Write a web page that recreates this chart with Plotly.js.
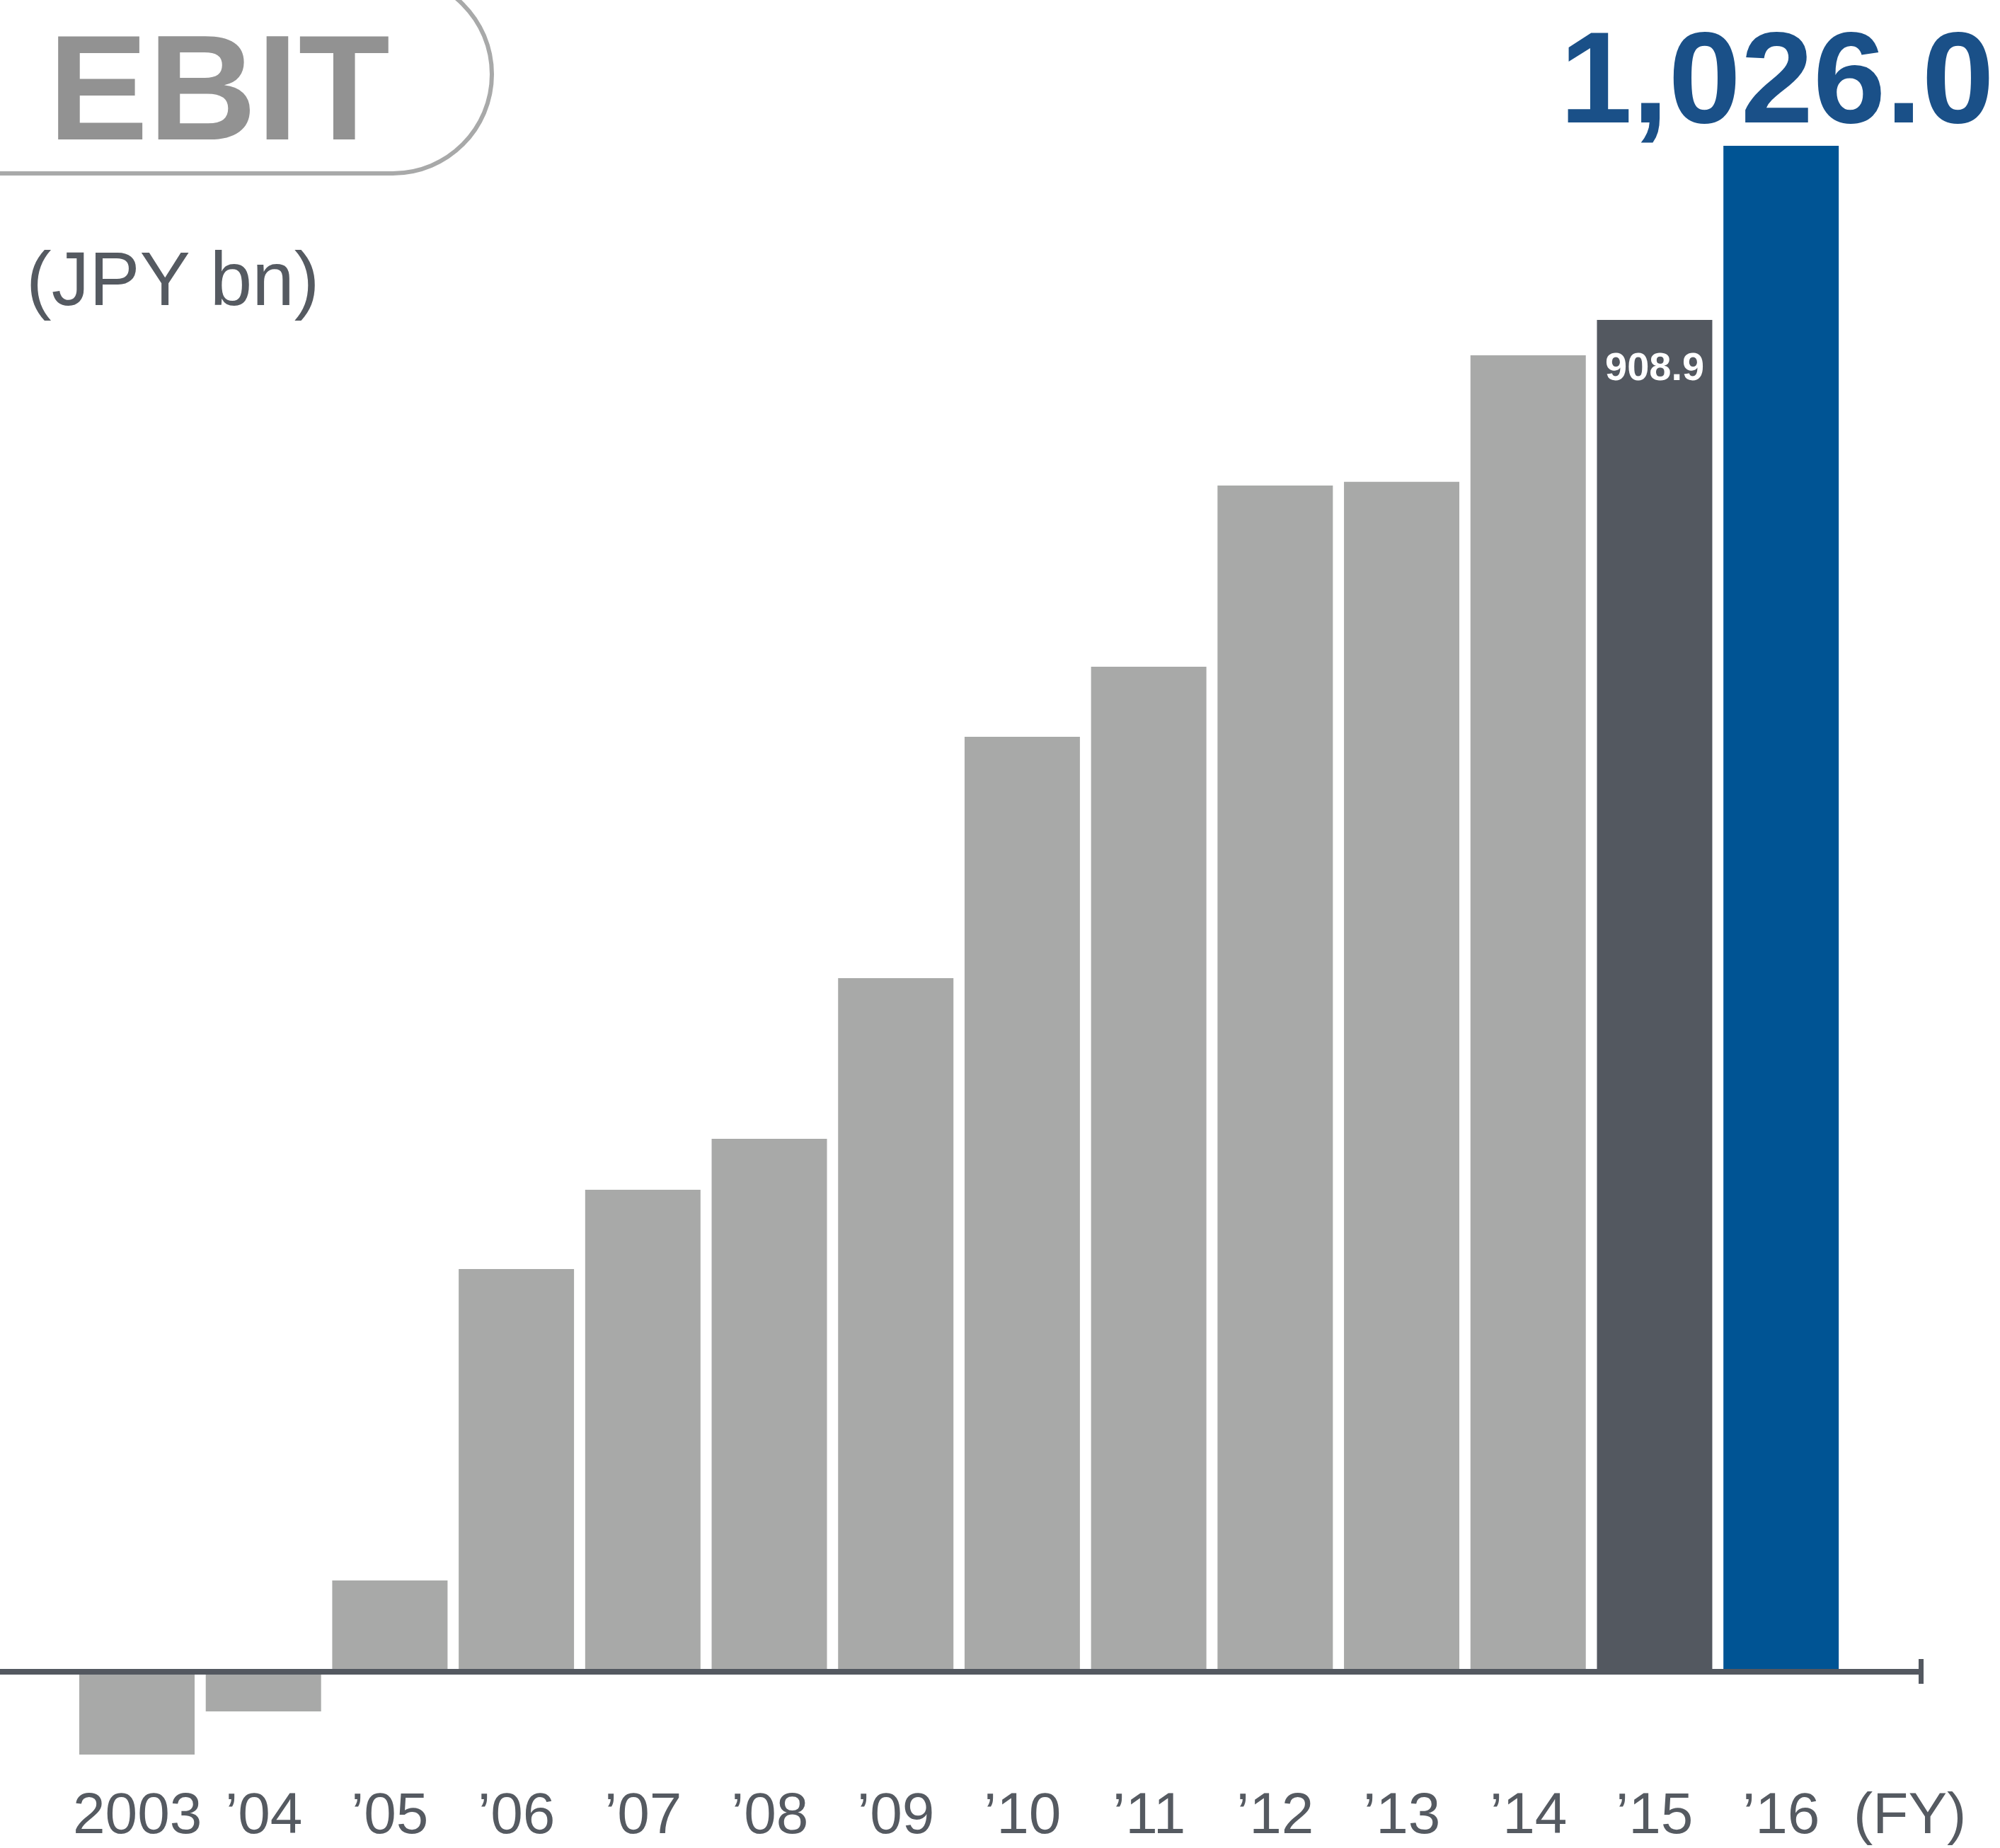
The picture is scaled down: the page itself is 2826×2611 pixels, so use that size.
<!DOCTYPE html>
<html>
<head>
<meta charset="utf-8">
<script src="https://cdn.plot.ly/plotly-3.0.1.min.js"></script>
<style>html,body{margin:0;padding:0;background:#ffffff;}</style>
</head>
<body>
<div id="chart" style="width:2826px;height:2611px;"></div>
<script>
// ---- data ----
const years = ["2003", "\u201904", "\u201905", "\u201906", "\u201907", "\u201908", "\u201909",
               "\u201910", "\u201911", "\u201912", "\u201913", "\u201914", "\u201915", "\u201916"];
const ebit = [-55.7, -26.6, 61.4, 270.8, 324.1, 358.3, 466.4, 628.6, 675.7, 797.6, 800.0, 885.1, 908.9, 1026.0];
const chartTitle = "EBIT";
const unitLabel = "(JPY bn)";
const axisUnit = "(FY)";
const highlightLabel = "1,026.0";
const prevLabel = "908.9";

// ---- layout helpers ----
const W = 2826, H = 2611;
const px = x => x / W;            // pixel -> paper x
const py = y => 1 - y / H;        // pixel -> paper y
const FONT = "Liberation Sans, Arial, Helvetica, sans-serif";
const GRAY = "#a8a9a8", DARK = "#535860", BLUE = "#005494", TEXT = "#555a61";

const colors = ebit.map((v, i) => i === ebit.length - 1 ? BLUE : (i === ebit.length - 2 ? DARK : GRAY));

const trace = {
  type: "bar",
  x: years,
  y: ebit,
  marker: {color: colors, line: {width: 0}},
  hoverinfo: "skip",
  cliponaxis: false
};

// pill outline around title (rounded right end)
const r = 140, cx = 555, cy = 105, k = 0.5523 * r;
const P = (x, y) => px(x) + "," + py(y);
const pillPath = "M" + P(-30, cy + r) + " L" + P(cx, cy + r) +
  " C" + P(cx + k, cy + r) + " " + P(cx + r, cy + k) + " " + P(cx + r, cy) +
  " C" + P(cx + r, cy - k) + " " + P(cx + k, cy - r) + " " + P(cx, cy - r) +
  " L" + P(-30, cy - r);

const shapes = [
  {type: "path", xref: "paper", yref: "paper", path: pillPath,
   line: {color: "#a8a9a9", width: 6}, layer: "above"},
  {type: "line", xref: "paper", yref: "paper", x0: px(-5), x1: px(2715), y0: py(2362), y1: py(2362),
   line: {color: DARK, width: 8}, layer: "above"},
  {type: "line", xref: "paper", yref: "paper", x0: px(2714.5), x1: px(2714.5), y0: py(2344), y1: py(2379),
   line: {color: DARK, width: 7}, layer: "above"}
];

const annotations = [];
years.forEach((yl, i) => {
  annotations.push({xref: "x", yref: "paper", x: i, y: py(2561), text: yl, showarrow: false,
    xanchor: "center", yanchor: "middle", font: {family: FONT, size: 82, color: TEXT}});
});
annotations.push({xref: "paper", yref: "paper", x: px(2617), y: py(2561), text: axisUnit, showarrow: false,
  xanchor: "left", yanchor: "middle", font: {family: FONT, size: 82, color: TEXT}});
annotations.push({xref: "paper", yref: "paper", x: px(66), y: py(124), text: "<b>" + chartTitle + "</b>", showarrow: false,
  xanchor: "left", yanchor: "middle", font: {family: FONT, size: 212, color: "#929292"}});
annotations.push({xref: "paper", yref: "paper", x: px(35), y: py(394), text: unitLabel, showarrow: false,
  xanchor: "left", yanchor: "middle", font: {family: FONT, size: 107, color: TEXT}});
annotations.push({xref: "paper", yref: "paper", x: px(2820), y: py(109), text: "<b>" + highlightLabel + "</b>", showarrow: false,
  xanchor: "right", yanchor: "middle", font: {family: FONT, size: 184, color: "#1a5088"}});
annotations.push({xref: "x", yref: "y", x: 12, y: ebit[12], yshift: -65, text: "<b>" + prevLabel + "</b>", showarrow: false,
  xanchor: "center", yanchor: "middle", font: {family: FONT, size: 56, color: "#ffffff"}});

const layout = {
  width: W, height: H, autosize: false,
  margin: {l: 0, r: 0, t: 0, b: 0, pad: 0},
  paper_bgcolor: "#ffffff", plot_bgcolor: "#ffffff",
  showlegend: false,
  bargap: 0.088,
  font: {family: FONT},
  xaxis: {type: "category", range: [-1.0828, 14.731], showgrid: false, zeroline: false,
          showticklabels: false, ticks: "", showline: false, fixedrange: true},
  yaxis: {range: [-118.49, 1124.0], showgrid: false, zeroline: false,
          showticklabels: false, ticks: "", showline: false, fixedrange: true},
  shapes: shapes,
  annotations: annotations
};

Plotly.newPlot("chart", [trace], layout, {staticPlot: true, displayModeBar: false});
</script>
</body>
</html>
